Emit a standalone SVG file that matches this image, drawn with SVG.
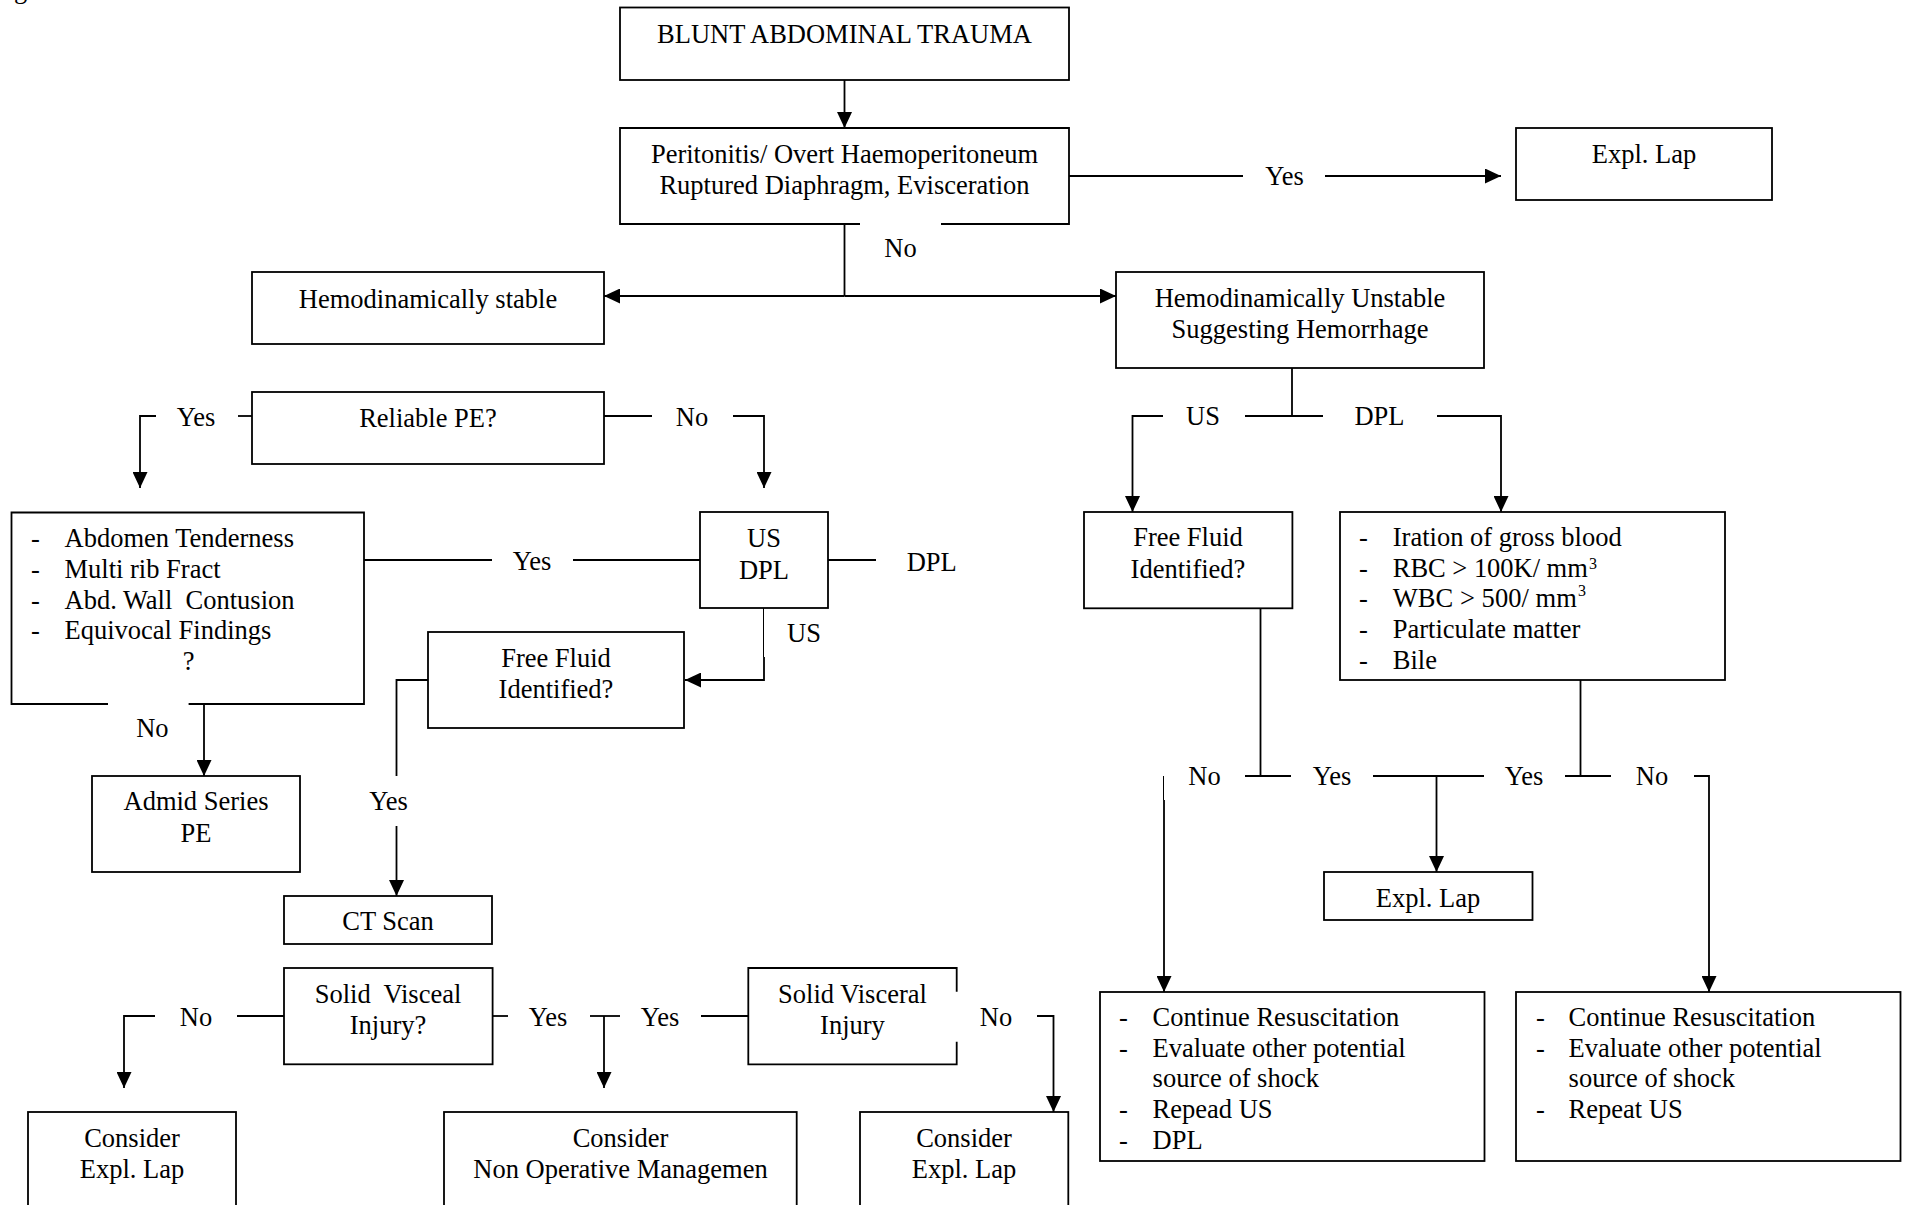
<svg xmlns="http://www.w3.org/2000/svg" width="1906" height="1205" viewBox="0 0 1906 1205">
<style>
.box{fill:#fff;stroke:#000;stroke-width:1.8}
.ln{fill:none;stroke:#000;stroke-width:1.8}
.thin{stroke-width:1}
text{font-family:"Liberation Serif","Times New Roman",serif;font-size:26.5px;fill:#000}
.c{text-anchor:middle}
.sup{font-size:16px}
</style>
<defs>
<marker id="ah" markerUnits="userSpaceOnUse" markerWidth="17" markerHeight="15" refX="16" refY="7.5" orient="auto"><path d="M0,0 L16,7.5 L0,15 z" fill="#000"/></marker>
</defs>
<rect width="1906" height="1205" fill="#fff"/>
<text x="14" y="-2">g</text>

<g id="connectors">
<path class="ln" d="M844.5,80 V128" marker-end="url(#ah)"/>
<path class="ln" d="M844.5,224 V296"/>
<path class="ln" d="M844.5,296 H604" marker-end="url(#ah)"/>
<path class="ln" d="M844.5,296 H1116" marker-end="url(#ah)"/>
<path class="ln" d="M1069,176 H1243"/>
<path class="ln" d="M1325,176 H1501" marker-end="url(#ah)"/>
<path class="ln" d="M1292,368 V416"/>
<path class="ln" d="M1245,416 H1323"/>
<path class="ln" d="M1163,416 H1132.5 V512" marker-end="url(#ah)"/>
<path class="ln" d="M1437,416 H1501 V512" marker-end="url(#ah)"/>
<path class="ln" d="M252,416 H238"/>
<path class="ln" d="M156,416 H140 V488" marker-end="url(#ah)"/>
<path class="ln" d="M604,416 H652"/>
<path class="ln" d="M733,416 H764 V488" marker-end="url(#ah)"/>
<path class="ln" d="M364,560 H492"/>
<path class="ln" d="M573,560 H700"/>
<path class="ln" d="M828,560 H876"/>
<path class="ln thin" d="M763.5,608 V657"/>
<path class="ln" d="M764,657 V680 H685" marker-end="url(#ah)"/>
<path class="ln" d="M204,704 V776" marker-end="url(#ah)"/>
<path class="ln" d="M428,680 H396.5 V776"/>
<path class="ln" d="M396.5,826 V896" marker-end="url(#ah)"/>
<path class="ln" d="M284,1016 H237"/>
<path class="ln" d="M155,1016 H124 V1088" marker-end="url(#ah)"/>
<path class="ln" d="M492.6,1016 H508"/>
<path class="ln" d="M590,1016 H620"/>
<path class="ln" d="M604,1016 V1088" marker-end="url(#ah)"/>
<path class="ln" d="M701,1016 H748.3"/>
<path class="ln" d="M1037,1016 H1053.5 V1112" marker-end="url(#ah)"/>
<path class="ln" d="M1260.5,608 V776"/>
<path class="ln" d="M1245,776 H1291"/>
<path class="ln" d="M1373,776 H1484"/>
<path class="ln" d="M1436.5,776 V872" marker-end="url(#ah)"/>
<path class="ln" d="M1580.5,680 V776"/>
<path class="ln" d="M1565,776 H1611"/>
<path class="ln" d="M1694,776 H1709 V992" marker-end="url(#ah)"/>
<path class="ln thin" d="M1163.5,776 V800"/>
<path class="ln" d="M1164,800 V992" marker-end="url(#ah)"/>
</g>

<g id="labels">
<text class="c" x="900.5" y="257">No</text>
<text class="c" x="1284.5" y="185">Yes</text>
<text class="c" x="1203" y="425">US</text>
<text class="c" x="1379.5" y="425">DPL</text>
<text class="c" x="196" y="426">Yes</text>
<text class="c" x="692" y="426">No</text>
<text class="c" x="532" y="570">Yes</text>
<text class="c" x="931.7" y="571">DPL</text>
<text class="c" x="804" y="642">US</text>
<text class="c" x="152.4" y="737">No</text>
<text class="c" x="388.5" y="810">Yes</text>
<text class="c" x="196" y="1026">No</text>
<text class="c" x="548" y="1026">Yes</text>
<text class="c" x="660" y="1026">Yes</text>
<text class="c" x="996" y="1026">No</text>
<text class="c" x="1204.5" y="785">No</text>
<text class="c" x="1332" y="785">Yes</text>
<text class="c" x="1524" y="785">Yes</text>
<text class="c" x="1652" y="785">No</text>
</g>

<g id="n-blunt"><rect class="box" x="620" y="7.5" width="449" height="72.5"/><text class="c" x="844.5" y="43">BLUNT ABDOMINAL TRAUMA</text></g>
<g id="n-peritonitis"><path class="box" d="M860,224 H620 V128 H1069 V224 H941"/><text class="c" x="844.5" y="163">Peritonitis/ Overt Haemoperitoneum</text><text class="c" x="844.5" y="194">Ruptured Diaphragm, Evisceration</text></g>
<g id="n-expl-top"><rect class="box" x="1516" y="128" width="256" height="72"/><text class="c" x="1644" y="163">Expl. Lap</text></g>
<g id="n-stable"><rect class="box" x="252" y="272" width="352" height="72"/><text class="c" x="428" y="308">Hemodinamically stable</text></g>
<g id="n-unstable"><rect class="box" x="1116" y="272" width="368" height="96"/><text class="c" x="1300" y="307">Hemodinamically Unstable</text><text class="c" x="1300" y="338">Suggesting Hemorrhage</text></g>
<g id="n-reliable"><rect class="box" x="252" y="392" width="352" height="72"/><text class="c" x="428" y="427">Reliable PE?</text></g>
<g id="n-abdomen"><path class="box" d="M108,704 H11.5 V512.5 H364 V704 H188.6"/>
<text x="31" y="547">-</text><text x="64.5" y="547">Abdomen Tenderness</text>
<text x="31" y="577.5">-</text><text x="64.5" y="577.5">Multi rib Fract</text>
<text x="31" y="608.5">-</text><text x="64.5" y="608.5" xml:space="preserve">Abd. Wall  Contusion</text>
<text x="31" y="639">-</text><text x="64.5" y="639">Equivocal Findings</text>
<text class="c" x="188.6" y="670">?</text></g>
<g id="n-usdpl"><rect class="box" x="700" y="512" width="128" height="96"/><text class="c" x="764" y="547">US</text><text class="c" x="764" y="579">DPL</text></g>
<g id="n-ff-left"><rect class="box" x="428" y="632" width="256" height="96"/><text class="c" x="556" y="667">Free Fluid</text><text class="c" x="556" y="698">Identified?</text></g>
<g id="n-admid"><rect class="box" x="92" y="776" width="208" height="96"/><text class="c" x="196" y="810">Admid Series</text><text class="c" x="196" y="842">PE</text></g>
<g id="n-ct"><rect class="box" x="284" y="896" width="208" height="48"/><text class="c" x="388" y="930">CT Scan</text></g>
<g id="n-sv1"><rect class="box" x="284" y="968" width="208.6" height="96.3"/><text class="c" x="388" y="1003" xml:space="preserve">Solid  Visceal</text><text class="c" x="388" y="1034">Injury?</text></g>
<g id="n-sv2"><path class="box" d="M956.7,991.7 V968 H748.3 V1064.3 H956.7 V1041.7"/><text class="c" x="852.5" y="1003">Solid Visceral</text><text class="c" x="852.5" y="1034">Injury</text></g>
<g id="n-cons1"><rect class="box" x="28" y="1112" width="208" height="110"/><text class="c" x="132" y="1147">Consider</text><text class="c" x="132" y="1178">Expl. Lap</text></g>
<g id="n-cons2"><rect class="box" x="444" y="1112" width="352.7" height="110"/><text class="c" x="620.5" y="1147">Consider</text><text class="c" x="620.5" y="1178">Non Operative Managemen</text></g>
<g id="n-cons3"><rect class="box" x="860" y="1112" width="208.3" height="110"/><text class="c" x="964" y="1147">Consider</text><text class="c" x="964" y="1178">Expl. Lap</text></g>
<g id="n-ff-right"><rect class="box" x="1084" y="512" width="208.4" height="96.3"/><text class="c" x="1188" y="546">Free Fluid</text><text class="c" x="1188" y="578">Identified?</text></g>
<g id="n-dpl"><rect class="box" x="1340" y="512" width="385" height="168"/>
<text x="1359" y="546">-</text><text x="1392.8" y="546">Iration of gross blood</text>
<text x="1359" y="577">-</text><text x="1392.8" y="577" textLength="195" lengthAdjust="spacing">RBC &gt; 100K/ mm</text><text class="sup" x="1589" y="569">3</text>
<text x="1359" y="607">-</text><text x="1392.8" y="607" textLength="184" lengthAdjust="spacing">WBC &gt; 500/ mm</text><text class="sup" x="1578" y="596">3</text>
<text x="1359" y="637.5">-</text><text x="1392.8" y="637.5">Particulate matter</text>
<text x="1359" y="668.5">-</text><text x="1392.8" y="668.5">Bile</text></g>
<g id="n-expl-mid"><rect class="box" x="1324" y="872" width="208.5" height="48"/><text class="c" x="1428" y="907">Expl. Lap</text></g>
<g id="n-resA"><rect class="box" x="1100" y="992" width="384.5" height="169"/>
<text x="1119" y="1026">-</text><text x="1152.6" y="1026">Continue Resuscitation</text>
<text x="1119" y="1057">-</text><text x="1152.6" y="1057">Evaluate other potential</text>
<text x="1152.6" y="1087">source of shock</text>
<text x="1119" y="1117.5">-</text><text x="1152.6" y="1117.5">Repead US</text>
<text x="1119" y="1148.5">-</text><text x="1152.6" y="1148.5">DPL</text></g>
<g id="n-resB"><rect class="box" x="1516" y="992" width="384.5" height="169"/>
<text x="1536" y="1026">-</text><text x="1568.6" y="1026">Continue Resuscitation</text>
<text x="1536" y="1057">-</text><text x="1568.6" y="1057">Evaluate other potential</text>
<text x="1568.6" y="1087">source of shock</text>
<text x="1536" y="1117.5">-</text><text x="1568.6" y="1117.5">Repeat US</text></g>
</svg>
